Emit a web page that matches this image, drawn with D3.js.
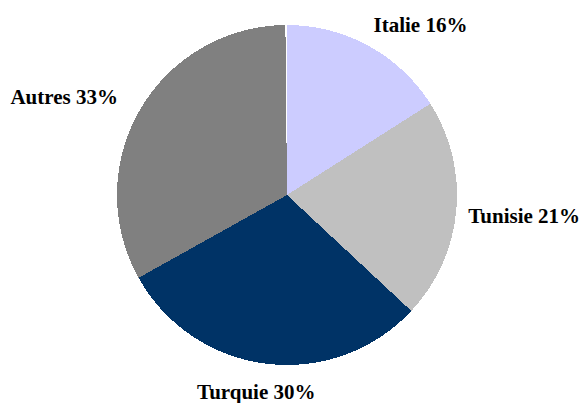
<!DOCTYPE html>
<html>
<head>
<meta charset="utf-8">
<script src="https://cdn.jsdelivr.net/npm/d3@7"></script>
<style>
  html, body { margin: 0; padding: 0; background: #ffffff; }
  svg { display: block; }
</style>
</head>
<body>
<svg id="chart" width="584" height="403"></svg>
<script>
// Share of origin by country (%), drawn clockwise from 12 o'clock
const categories = ["Italie", "Tunisie", "Turquie", "Autres", ""];
const values = [16, 21, 30, 33, 0.15];
const labels = ["Italie 16%", "Tunisie 21%", "Turquie 30%", "Autres 33%", ""];
const colors = ["#ccccff", "#c0c0c0", "#003366", "#808080", "#ffffff"];

const width = 584, height = 403;
const cx = 287, cy = 195, radius = 170;

const svg = d3.select("#chart");
const g = svg.append("g").attr("transform", `translate(${cx},${cy})`);

const data = categories.map((c, i) => ({ name: c, value: values[i], label: labels[i], color: colors[i] }));

const pie = d3.pie().value(d => d.value).sort(null);
const arc = d3.arc().innerRadius(0).outerRadius(radius);
const arcs = pie(data);

g.selectAll("path.slice")
  .data(arcs)
  .join("path")
  .attr("class", "slice")
  .attr("d", arc)
  .attr("fill", d => d.data.color)
  .attr("shape-rendering", "crispEdges");

// Labels sit just outside the rim at each slice's mid-angle
const labelR = radius + 14;
const fontSize = 21;
g.selectAll("text.label")
  .data(arcs.filter(d => d.data.label))
  .join("text")
  .attr("class", "label")
  .attr("font-family", "'Liberation Serif', 'Times New Roman', serif")
  .attr("font-weight", "bold")
  .attr("font-size", fontSize)
  .attr("fill", "#000000")
  .text(d => d.data.label)
  .each(function (d) {
    const a = (d.startAngle + d.endAngle) / 2;
    const s = Math.sin(a), c = Math.cos(a);
    const w = this.getComputedTextLength();
    let x = labelR * s;
    let y = -labelR * c + (1 - c) / 2 * fontSize;
    if (c > 0) y -= 3.5;
    let anchor;
    if (s > 0.3) { anchor = "start"; x -= 2; }
    else if (s < -0.3) { anchor = "end"; x -= 10; }
    else { anchor = "middle"; x += s * w * 0.6; }
    d3.select(this)
      .attr("x", x)
      .attr("y", y)
      .attr("text-anchor", anchor);
  });
</script>
</body>
</html>
